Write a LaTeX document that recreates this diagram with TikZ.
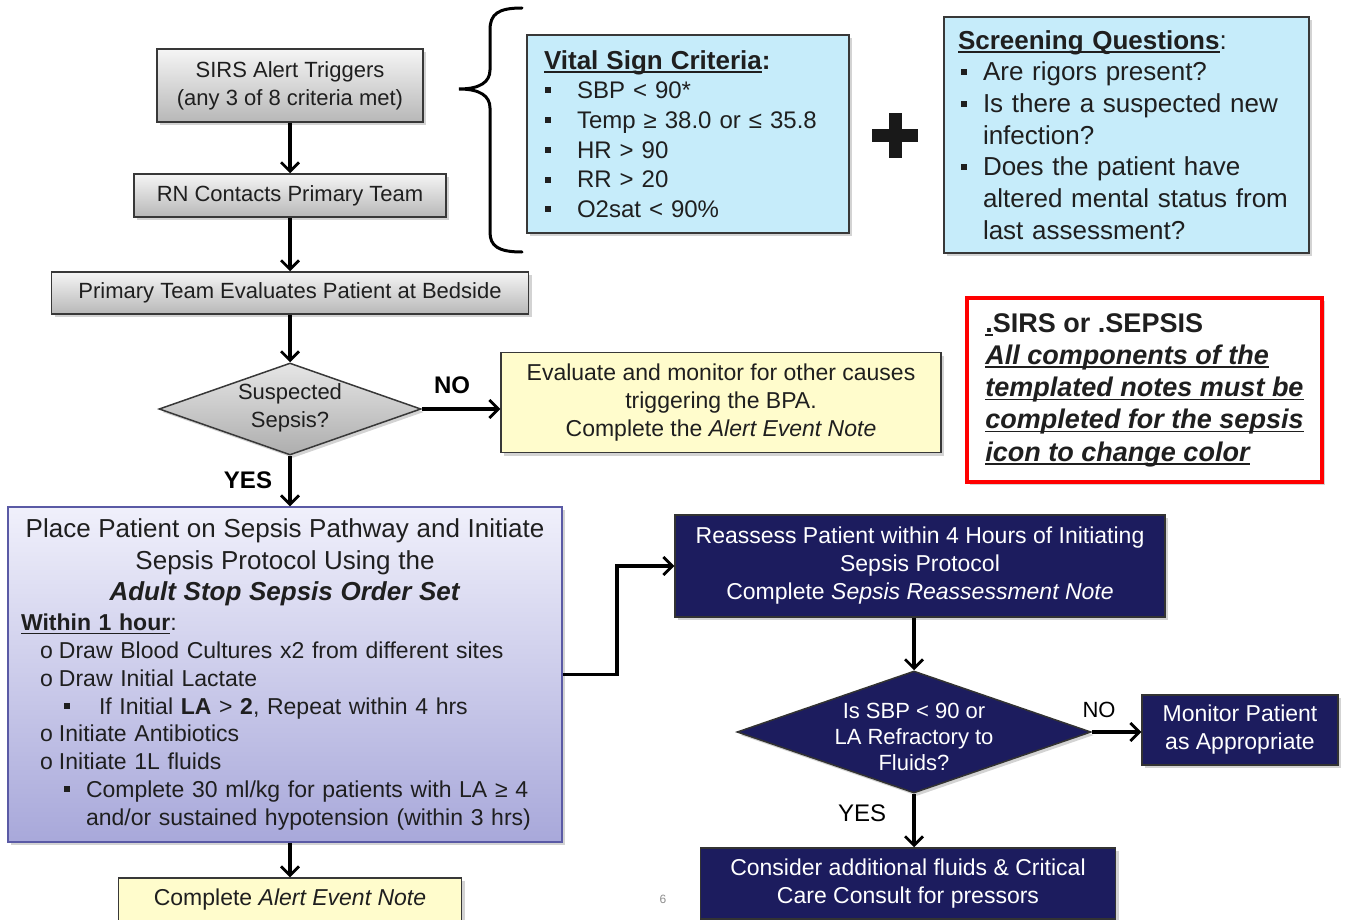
\documentclass[tikz,border=0pt]{standalone}
\usepackage{fontspec}
\setmainfont{Liberation Sans}
\usetikzlibrary{positioning}
\usetikzlibrary{calc}
\usetikzlibrary{shapes.geometric}
\usetikzlibrary{arrows.meta}
\usetikzlibrary{shadows}
\colorlet{grey top colour}{black!4}
\colorlet{grey bottom colour}{black!28}
\colorlet{edge colour}{black!78}
\colorlet{text colour}{black!88}
\colorlet{note colour}{yellow!20}
\definecolor{sky colour}{HTML}{C6ECFA}
\definecolor{lavender top colour}{HTML}{F0F0FB}
\definecolor{lavender bottom colour}{HTML}{A8A8DA}
\definecolor{lavender edge colour}{HTML}{5A5AA5}
\definecolor{navy colour}{HTML}{1C1C5E}
\colorlet{alert colour}{red}
% Bullets for the hand made lists
\newcommand{\sqbullet}{\rule[0.22em]{6pt}{6pt}}
\newcommand{\ringitem}{\hspace*{19pt}\makebox[19pt][l]{o}}
\newcommand{\squareitem}[1]{\hspace*{43pt}\makebox[#1][l]{\sqbullet}}
% Underline drawn close to the baseline, through the descenders
\newcommand{\lowrule}[1]{\setbox0=\hbox{#1}\rlap{\rule[-3.5pt]{\wd0}{1.6pt}}\box0}
\tikzset{
    % Open barbs on all the connectors
    >={Straight Barb[length=9pt, width=18pt, line width=2.8pt]},
    flow/.style={draw, line width=3.2pt, ->},
    brace line/.style={draw, line width=3pt, line cap=round},
%
    % Nodes are centred unless told otherwise
    every node/.style={align=center, text=text colour},
    shadowed/.style={
        drop shadow={shadow xshift=3pt, shadow yshift=-3pt, opacity=0.35}},
%
    % Boxes of the screening column
    grey box/.style={
        draw=edge colour, line width=1.5pt, rectangle, shadowed,
        top color=grey top colour, bottom color=grey bottom colour,
        inner sep=0pt, font=\fontsize{22}{28}\selectfont},
    grey diamond/.style={
        draw=edge colour, line width=1.5pt, diamond, shadowed, inner sep=0pt,
        top color=black!10, bottom color=black!32},
    diamond text/.style={font=\fontsize{22}{28}\selectfont},
    note box/.style={
        draw=edge colour, line width=1.5pt, rectangle, shadowed,
        fill=note colour, inner sep=0pt, font=\fontsize{23}{28}\selectfont},
    sky box/.style={
        draw=edge colour, line width=1.5pt, rectangle, shadowed,
        fill=sky colour, align=left},
    lavender box/.style={
        draw=lavender edge colour, line width=1.5pt, rectangle, shadowed,
        top color=lavender top colour, bottom color=lavender bottom colour,
        align=left},
    alert box/.style={
        draw=alert colour, line width=4pt, rectangle, fill=white, shadowed,
        align=left, font=\fontsize{27}{32.3}\selectfont},
%
    % Boxes of the reassessment branch
    navy box/.style={
        draw=black!80, line width=1.5pt, rectangle, shadowed,
        fill=navy colour, text=white, inner sep=0pt,
        font=\fontsize{23}{28}\selectfont},
    navy diamond/.style={
        draw=black!80, line width=1.5pt, diamond, shadowed,
        fill=navy colour, inner sep=0pt},
    navy text/.style={text=white, font=\fontsize{22}{26}\selectfont},
%
    branch label/.style={text=black, font=\bfseries\fontsize{24}{24}\selectfont},
    plain label/.style={text=black, font=\fontsize{22}{22}\selectfont},
}

\begin{document}
\begin{tikzpicture}[
    x=1pt, y=-1pt]

\useasboundingbox (0,0) rectangle (1348,920);

% Screening and first decision
\path
    (290,85.5) node [grey box, minimum width=266pt, minimum height=73pt] (sirs)
        {SIRS Alert Triggers\\(any 3 of 8 criteria met)}
    (290,195.5) node [grey box, minimum width=312pt, minimum height=43pt] (contact)
        {RN Contacts Primary Team}
    (290,293) node [grey box, minimum width=477pt, minimum height=42pt] (bedside)
        {Primary Team Evaluates Patient at Bedside}
    (290,409) node [grey diamond, minimum width=262pt, minimum height=92pt] (suspect) {}
    (290,408) node [diamond text] (suspect text) {Suspected\\Sepsis?}
    (721,402.5) node [note box, minimum width=440pt, minimum height=100pt] (evaluate)
        {Evaluate and monitor for other causes\\triggering the BPA.\\
         Complete the \textit{Alert Event Note}}
    (452,385) node [branch label] (no suspect) {NO}
    (248,480) node [branch label] (yes suspect) {YES};

% Criteria boxes
\path
    (688,134) node [sky box, minimum width=322pt, minimum height=198pt,
        text width=288pt, inner xsep=17pt, font=\fontsize{24}{29.7}\selectfont] (vital)
        {{\fontsize{26}{29.7}\selectfont\textbf{\lowrule{Vital Sign Criteria}:}}\\
         \makebox[33pt][l]{\hspace{1pt}\sqbullet}SBP < 90*\\
         \makebox[33pt][l]{\hspace{1pt}\sqbullet}Temp ≥ 38.0 or ≤ 35.8\\
         \makebox[33pt][l]{\hspace{1pt}\sqbullet}HR > 90\\
         \makebox[33pt][l]{\hspace{1pt}\sqbullet}RR > 20\\
         \makebox[33pt][l]{\hspace{1pt}\sqbullet}O2sat < 90\%}
    (1126.5,135) node [sky box, minimum width=365pt, minimum height=236pt,
        text width=337pt, inner xsep=14pt, font=\fontsize{26}{31.7}\selectfont] (screen)
        {\textbf{\lowrule{Screening Questions}}:\\
         \makebox[25pt][l]{\hspace{3pt}\sqbullet}Are rigors present?\\
         \makebox[25pt][l]{\hspace{3pt}\sqbullet}Is there a suspected new\\
         \hspace*{25pt}infection?\\
         \makebox[25pt][l]{\hspace{3pt}\sqbullet}Does the patient have\\
         \hspace*{25pt}altered mental status from\\
         \hspace*{25pt}last assessment?}
    (1144.5,390) node [alert box, minimum width=355pt, minimum height=184pt] (alert)
        {\textbf{\lowrule{.}SIRS or .SEPSIS}\\
         \textbf{\textit{\lowrule{All components of the}}}\\
         \textbf{\textit{\lowrule{templated notes must be}}}\\
         \textbf{\textit{\lowrule{completed for the sepsis}}}\\
         \textbf{\textit{\lowrule{icon to change color}}}};

% The brace and the plus sign
\draw [brace line] (522,8) .. controls (498,8) and (490,14) .. (490,30)
    -- (490,70) .. controls (490,82) and (480,89) .. (459,89)
    .. controls (480,89) and (490,96) .. (490,108)
    -- (490,232) .. controls (490,246) and (498,252) .. (522,252);
\fill [black!90] (872,129) rectangle (918,142);
\fill [black!90] (889,113) rectangle (902,158);

% Sepsis pathway
\path
    (285,674.5) node [lavender box, minimum width=554pt, minimum height=335pt,
        text width=528pt, inner xsep=13pt, font=\fontsize{23}{27.8}\selectfont] (protocol)
        {{\fontsize{26}{31.5}\selectfont\centering
          Place Patient on Sepsis Pathway and Initiate\\
          Sepsis Protocol Using the\\
          \textbf{\textit{Adult Stop Sepsis Order Set}}\par}%
         \vspace{2pt}%
         {\textbf{\lowrule{Within 1 hour}}:\\
          \ringitem Draw Blood Cultures x2 from different sites\\
          \ringitem Draw Initial Lactate\\
          \squareitem{35pt}If Initial \textbf{LA} > \textbf{2}, Repeat within 4 hrs\\
          \ringitem Initiate Antibiotics\\
          \ringitem Initiate 1L fluids\\
          \squareitem{22pt}Complete 30 ml/kg for patients with LA ≥ 4\\
          \hspace*{65pt}and/or sustained hypotension (within 3 hrs)\par}}
    (290,899.5) node [note box, minimum width=343pt, minimum height=43pt] (complete)
        {Complete \textit{Alert Event Note}}
    (663,899) node [text=black!45, font=\fontsize{12}{12}\selectfont] (page) {6};

% Reassessment branch
\path
    (920,566) node [navy box, minimum width=490pt, minimum height=102pt] (reassess)
        {Reassess Patient within 4 Hours of Initiating\\Sepsis Protocol\\
         Complete \textit{Sepsis Reassessment Note}}
    (914,732) node [navy diamond, minimum width=354pt, minimum height=122pt] (refractory) {}
    (914,737) node [navy text] (refractory text) {Is SBP < 90 or\\LA Refractory to\\Fluids?}
    (1240,730) node [navy box, minimum width=196pt, minimum height=70pt] (monitor)
        {Monitor Patient\\as Appropriate}
    (908,883.5) node [navy box, minimum width=415pt, minimum height=71pt] (consider)
        {Consider additional fluids \& Critical\\Care Consult for pressors}
    (1099,710) node [plain label] (no refractory) {NO}
    (862,813) node [plain label, font=\fontsize{24}{24}\selectfont] (yes refractory) {YES};

\coordinate (elbow) at (617,674.5);

\draw [flow] (sirs) -- (contact);
\draw [flow] (contact) -- (bedside);
\draw [flow] (bedside) -- (suspect);
\draw [flow] (suspect.east) -- (suspect.east -| evaluate.west);
\draw [flow] (suspect.south) -- (suspect.south |- protocol.north);
\draw [flow] (protocol.south -| complete.north) -- (complete.north);
\draw [flow] (protocol.east) -- (elbow) |- (reassess.west);
\draw [flow] (refractory.north |- reassess.south) -- (refractory.north);
\draw [flow] (refractory.east) -- (refractory.east -| monitor.west);
\draw [flow] (refractory.south) -- (refractory.south |- consider.north);

\end{tikzpicture}
\end{document}
